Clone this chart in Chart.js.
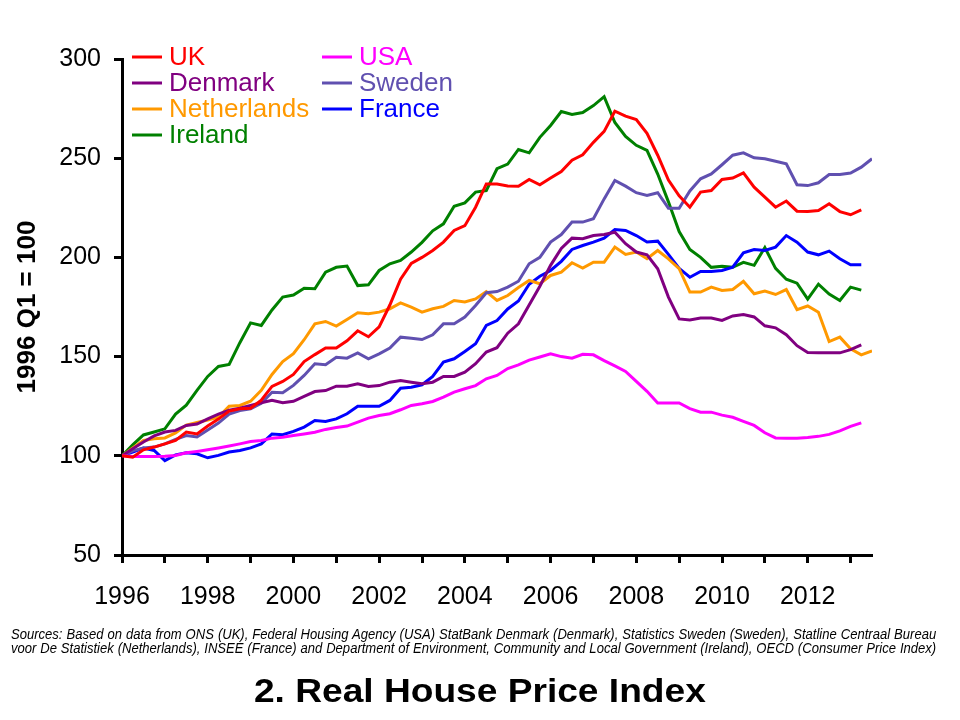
<!DOCTYPE html>
<html>
<head>
<meta charset="utf-8">
<script src="https://cdn.jsdelivr.net/npm/chart.js@4/dist/chart.umd.min.js"></script>
<style>
  html, body { margin: 0; padding: 0; background: #fff; }
  #wrap { position: relative; width: 960px; height: 720px; overflow: hidden; }
  #c { position: absolute; left: 0; top: 0; }
  .src { position: absolute; left: 11px; width: 1028px; font-family: 'Liberation Sans', Arial, sans-serif;
         font-style: italic; font-size: 14.5px; line-height: 15px; color: #000;
         text-align: justify; text-align-last: justify; white-space: nowrap;
         transform: scaleX(0.9); transform-origin: 0 0; }
  #title { position: absolute; left: 0; width: 960px; top: 672px; text-align: center;
           font-family: 'Liberation Sans', Arial, sans-serif; font-weight: bold; font-size: 33px; color: #000; }
  #title span { display: inline-block; transform: scaleX(1.125); transform-origin: 50% 50%; }
</style>
</head>
<body>
<div id="wrap">
  <canvas id="c" width="960" height="720"></canvas>
  <div class="src" id="src1" style="top:627px">Sources: Based on data from ONS (UK), Federal Housing Agency (USA) StatBank Denmark (Denmark), Statistics Sweden (Sweden), Statline Centraal Bureau</div>
  <div class="src" id="src2" style="top:641px">voor De Statistiek (Netherlands), INSEE (France) and Department of Environment, Community and Local Government (Ireland), OECD (Consumer Price Index)</div>
  <div id="title"><span>2. Real House Price Index</span></div>
</div>
<script>
// ---- Data (quarterly, 1996 Q1 = 100) ----
const startYear = 1996;
const seriesNames = ['UK', 'USA', 'Denmark', 'Sweden', 'Netherlands', 'France', 'Ireland'];
const seriesColors = ['#FF0000', '#FF00FF', '#800080', '#6050B0', '#FF9900', '#0000FF', '#008000'];
const yTicks = [50, 100, 150, 200, 250, 300];
const xTickYears = [1996, 1998, 2000, 2002, 2004, 2006, 2008, 2010, 2012];

const ukValues = [100, 99.3, 103, 104.4, 106, 107.7, 112, 111, 115, 118.5,
  122.5, 123.7, 124, 128, 135, 137.5, 141, 147.5, 151, 154.3,
  154.3, 158, 163, 160, 165, 176, 189, 197, 200, 203.5,
  207.7, 213.6, 216, 225.3, 237, 237, 236, 235.9, 239.3, 236.6,
  240, 243.3, 249, 251.7, 258, 263.5, 273.7, 271.2, 269.5, 262.5,
  251.5, 239, 231, 225.3, 232.9, 233.7, 239.3, 240, 242.6, 235.4,
  230.4, 225.3, 228.4, 223.3, 223.1, 223.6, 227, 223.1, 221.5, 224];

const usaValues = [100, 99.7, 99.7, 99.7, 99.8, 100.2, 101.5, 102.2, 103, 103.9,
  104.9, 106, 107.2, 107.7, 108.9, 109.4, 110.2, 111, 111.9, 113.3,
  114.3, 115, 117, 119, 120.3, 121.2, 123.2, 125.4, 126.2, 127.4,
  129.6, 132.1, 133.8, 135.4, 138.8, 140.5, 144, 145.8, 148.2, 149.8,
  151.4, 150, 149.2, 151.2, 150.9, 148, 145.3, 142.5, 137.5, 132.5,
  126.6, 126.6, 126.6, 123.8, 122, 122, 120.5, 119.4, 117.3, 115.3,
  111.6, 109, 108.9, 108.9, 109.2, 109.8, 110.8, 112.6, 114.8, 116.6];

const denmarkValues = [100, 103.5, 107, 110, 112, 112.8, 115.3, 116, 118.6, 121,
  123, 124, 125.4, 126.7, 128, 126.7, 127.5, 130, 132.4, 132.9,
  135.1, 135.1, 136.3, 134.9, 135.4, 137.1, 138, 137.1, 136.3, 137.1,
  140, 140, 142.2, 146.4, 152.3, 154.5, 161.8, 166.5, 176, 185.5,
  196, 204.5, 209.7, 209.4, 211, 211.5, 212.7, 206.9, 202.7, 201.3,
  194.3, 180, 169, 168.5, 169.4, 169.4, 168.2, 170.5, 171.2, 170,
  165.5, 164.5, 161, 155.5, 152, 151.9, 151.9, 151.9, 153.5, 155.9];

const swedenValues = [100, 102.5, 103.9, 104.4, 106, 108.3, 110.2, 109.5, 113, 116.5,
  121, 122.8, 123.7, 126.5, 132, 131.8, 135.5, 140.5, 146.4, 145.9,
  149.7, 149.2, 151.9, 148.9, 151.4, 154.3, 159.8, 159.3, 158.6, 161,
  166.5, 166.5, 169.9, 175.8, 182.2, 182.8, 185, 188, 196.8, 200,
  207.7, 211.5, 217.8, 217.8, 219.5, 229.5, 238.8, 235.9, 232.6, 231.2,
  232.6, 224.8, 224.8, 233.5, 239.6, 242.1, 246.7, 251.5, 252.7, 250.2,
  249.7, 248.5, 247.2, 236.6, 236.2, 237.6, 241.8, 241.8, 242.5, 245.5,
  249.7];

const netherlandsValues = [100, 104, 107.7, 108.6, 109, 111.5, 115.5, 116.8, 118, 119.5,
  125, 125.4, 127.5, 133, 141, 147.5, 151.5, 158.5, 166.5, 167.7,
  165.4, 168.7, 172.1, 171.6, 172.4, 174.1, 177.1, 174.9, 172.4, 174.1,
  175.3, 178.3, 177.5, 179.1, 182.8, 178.3, 180.8, 184.8, 188.4, 186.7,
  190.9, 192.6, 197.3, 194.6, 197.6, 197.6, 205.2, 201.5, 202.7, 199.3,
  203.5, 199.3, 194.3, 182.5, 182.5, 185, 183.3, 183.8, 187.9, 181.7,
  183, 181.3, 183.8, 173.7, 175.5, 172.4, 157.6, 159.8, 153.9, 150.9,
  152.9];

const franceValues = [100, 101.9, 103.9, 102.7, 97.6, 100.5, 101.5, 101, 99, 100.2,
  101.9, 102.7, 104, 106, 111, 110.6, 112.3, 114.5, 117.8, 117.3,
  118.6, 121.2, 125, 125, 125, 127.9, 134.1, 134.6, 135.8, 140,
  147.2, 148.9, 152.6, 156.5, 165.7, 168.2, 174, 178, 186.5, 190.5,
  193.4, 198, 204, 206, 207.7, 209.7, 214, 213.6, 211, 207.8,
  208.2, 201.5, 194.5, 190, 192.9, 192.9, 193.4, 195.1, 202.3, 204,
  203.5, 205.2, 211, 207.7, 202.7, 201.3, 203.2, 199.3, 196.3, 196.3];

const irelandValues = [100, 105.5, 110.5, 112, 113.6, 121, 125.5, 133, 140, 145,
  146, 157, 167, 165.7, 173.5, 180, 181, 184.5, 184.2, 192.6,
  195, 195.6, 185.8, 186.2, 193.4, 196.8, 198.5, 202.7, 207.6, 213.4,
  216.9, 225.8, 227.5, 232.9, 233.7, 244.7, 247, 254.4, 252.7, 260.5,
  266.5, 273.5, 272, 273, 276.5, 281, 268, 261, 256.5, 254,
  242, 228, 213, 204, 200, 195, 195.5, 195, 197.5, 196,
  205, 194.5, 189, 187, 179, 186.5, 181.5, 178.3, 185, 183.5];

const allValues = [ukValues, usaValues, denmarkValues, swedenValues, netherlandsValues, franceValues, irelandValues];

// quarter index -> decimal year on the x scale
const toPoints = vals => vals.map((v, i) => ({ x: startYear + i / 4, y: v }));

const FONT = "'Liberation Sans', Arial, sans-serif";
Chart.defaults.font.family = FONT;
Chart.defaults.color = '#000';

// Legend drawn inside plot area in two columns (matching reference layout)
const legendLayout = [
  { col: 0, row: 0 }, { col: 1, row: 0 },
  { col: 0, row: 1 }, { col: 1, row: 1 },
  { col: 0, row: 2 }, { col: 1, row: 2 },
  { col: 0, row: 3 }
];
const inPlotLegend = {
  id: 'inPlotLegend',
  afterDraw(chart) {
    const ctx = chart.ctx;
    const area = chart.chartArea;
    const colX = [area.left + 10, area.left + 200];
    const rowY0 = area.top - 2, rowH = 26;
    ctx.save();
    ctx.font = '26px ' + FONT;
    ctx.textBaseline = 'middle';
    ctx.textAlign = 'left';
    chart.data.datasets.forEach((ds, i) => {
      const p = legendLayout[i];
      const x = colX[p.col];
      const y = rowY0 + p.row * rowH;
      ctx.strokeStyle = ds.borderColor;
      ctx.lineWidth = 3;
      ctx.beginPath();
      ctx.moveTo(x, y);
      ctx.lineTo(x + 30, y);
      ctx.stroke();
      ctx.fillStyle = ds.borderColor;
      ctx.fillText(ds.label, x + 37, y + 1);
    });
    ctx.restore();
  }
};

new Chart(document.getElementById('c'), {
  type: 'line',
  data: {
    datasets: seriesNames.map((name, i) => ({
      label: name,
      data: toPoints(allValues[i]),
      borderColor: seriesColors[i],
      backgroundColor: seriesColors[i],
      borderWidth: 3,
      pointRadius: 0,
      tension: 0,
      fill: false
    }))
  },
  options: {
    responsive: false,
    animation: false,
    devicePixelRatio: 1,
    layout: { padding: { top: 59, left: 0, right: 88, bottom: 105 } },
    plugins: { legend: { display: false }, tooltip: { enabled: false }, title: { display: false } },
    scales: {
      x: {
        type: 'linear',
        min: 1996,
        max: 2013.5,
        afterFit: s => { s.height = 60; },
        border: { display: true, color: '#000', width: 3 },
        grid: { display: true, drawOnChartArea: false, drawTicks: true, tickLength: 8, tickWidth: 3, tickColor: '#000' },
        ticks: {
          stepSize: 1,
          includeBounds: false,
          autoSkip: false,
          maxRotation: 0,
          padding: 19,
          font: { size: 25 },
          color: '#000',
          callback: v => xTickYears.includes(v) ? String(v) : ''
        }
      },
      y: {
        min: 50,
        max: 300,
        afterFit: s => { s.width = 122; },
        afterBuildTicks: s => { s.ticks = yTicks.map(v => ({ value: v })); },
        border: { display: true, color: '#000', width: 3 },
        grid: { display: true, drawOnChartArea: false, drawTicks: true, tickLength: 8, tickWidth: 3, tickColor: '#000' },
        ticks: { padding: 13, font: { size: 25 }, color: '#000' },
        title: {
          display: true,
          text: '1996 Q1 = 100',
          font: { size: 26, weight: 'bold' },
          color: '#000',
          padding: { top: 12, bottom: 0 }
        }
      }
    }
  },
  plugins: [inPlotLegend]
});
</script>
</body>
</html>
